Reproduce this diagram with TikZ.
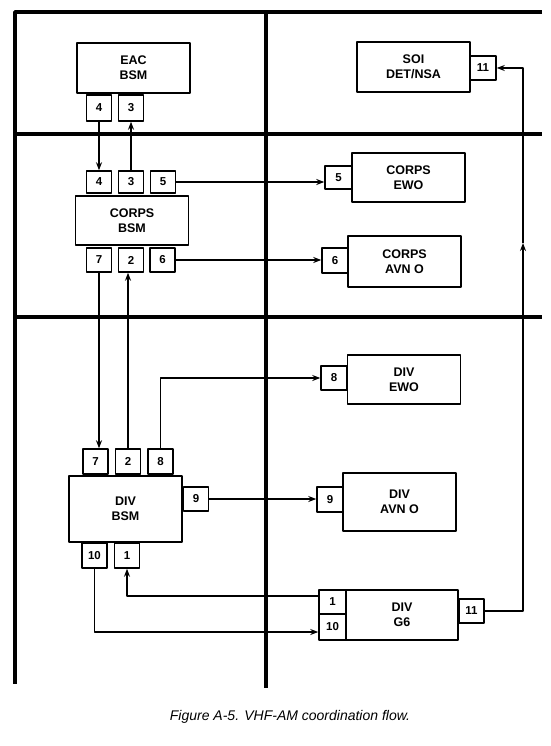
\documentclass[tikz,border=0pt]{standalone}
\usepackage{fontspec}
\setmainfont{Liberation Sans}
\usetikzlibrary{arrows.meta}
\begin{document}
\begin{tikzpicture}[x=1pt,y=-1pt,>={Stealth[length=8pt,width=6pt]}, line join=round,
	grid/.style={line width=3.4pt},
	unit/.style={draw, line width=1.5pt, minimum width=113pt, minimum height=50pt, inner sep=0pt, align=center, font=\fontsize{12.5}{15}\selectfont\bfseries},
	port/.style={draw, line width=1.5pt, minimum width=25pt, minimum height=24pt, inner sep=0pt, font=\fontsize{11.5}{12}\selectfont\bfseries},
	flow/.style={line width=1.5pt}]
	\useasboundingbox (0,0) rectangle (550,746);
	% Gitter
	\draw[grid] (542,12) -- (15,12) -- (15,684);
	\draw[grid] (266,12) -- (266,688);
	\draw[grid] (15,134) -- (542,134);
	\draw[grid] (15,317) -- (542,317);
	% EAC
	\node[unit] (eac) at (133.5,68) {EAC\\BSM};
	\node[port, minimum height=26pt] (eacfour) at (99,108) {4};
	\node[port, minimum height=26pt] (eacthree) at (131,108) {3};
	% Korps
	\node[unit, minimum height=49pt] (corps) at (132,220.5) {CORPS\\BSM};
	\node[port, minimum height=22pt] (corpsfour) at (99,182) {4};
	\node[port, minimum height=22pt] (corpsthree) at (131,182) {3};
	\node[port, minimum height=22pt] (corpsfive) at (163,182) {5};
	\node[port] (corpsseven) at (99,260) {7};
	\node[port] (corpstwo) at (131,260) {2};
	\node[port] (corpssix) at (162.5,260) {6};
	\node[unit] (soi) at (413.5,67) {SOI\\DET/NSA};
	\node[port, minimum width=26pt] (soieleven) at (483,68) {11};
	\node[unit, minimum height=49pt] (cewo) at (408.5,177.5) {CORPS\\EWO};
	\node[port, minimum width=27pt, minimum height=23pt] (cewofive) at (338.5,177.5) {5};
	\node[unit, minimum height=51pt] (cavn) at (404.5,261.5) {CORPS\\AVN O};
	\node[port, minimum width=26pt, minimum height=25pt] (cavnsix) at (335,260.5) {6};
	% Division
	\node[unit, minimum height=66pt] (div) at (125.5,509) {DIV\\BSM};
	\node[port, minimum height=25pt] (divseven) at (95.5,461.5) {7};
	\node[port, minimum height=25pt] (divtwo) at (128,461.5) {2};
	\node[port, minimum height=25pt] (diveight) at (160.5,461.5) {8};
	\node[port] (divnine) at (196,499) {9};
	\node[port, minimum height=25pt] (divten) at (94.5,555.5) {10};
	\node[port, minimum height=25pt] (divone) at (127,555.5) {1};
	\node[unit, minimum height=49pt] (dewo) at (404,379.5) {DIV\\EWO};
	\node[port, minimum width=26pt] (deweight) at (334,378) {8};
	\node[unit, minimum height=58pt] (davn) at (399.5,502) {DIV\\AVN O};
	\node[port, minimum width=26pt, minimum height=25pt] (davnine) at (330,499.5) {9};
	\node[unit, minimum width=112pt] (gsix) at (402,615) {DIV\\G6};
	\node[port, minimum width=27pt] (gsixone) at (332.5,602) {1};
	\node[port, minimum width=27pt, minimum height=26pt] (gsixten) at (332.5,627) {10};
	\node[port] (gsixeleven) at (471.5,611) {11};
	\coordinate (rise) at (523,611);
	\coordinate (mid) at (523,243);
	% Verbindungen
	\draw[flow,->] (eacfour) -- (eacfour |- corpsfour.north);
	\draw[flow,->] (corpsthree) -- (corpsthree |- eacthree.south);
	\draw[flow,->] (corpsfive) -- (corpsfive -| cewofive.west);
	\draw[flow,->] (corpssix) -- (corpssix -| cavnsix.west);
	\draw[flow,->] (corpsseven) -- (corpsseven |- divseven.north);
	\draw[flow,->] (divtwo) -- (divtwo |- corpstwo.south);
	\draw[flow,->] (diveight.north) |- (deweight.west);
	\draw[flow,->] (divnine) -- (divnine -| davnine.west);
	\draw[flow,->] ([yshift=6pt]gsixone.west) -| (divone.south);
	\draw[flow,->] (divten.south) |- ([yshift=-5pt]gsixten.west);
	\draw[flow,->] (gsixeleven.east) -- (rise) -- (mid);
	\draw[flow,->] (mid) |- (soieleven.east);
	\node[font=\fontsize{14}{16}\selectfont\itshape] (caption) at (290,717) {Figure A-5. VHF-AM coordination flow.};
\end{tikzpicture}
\end{document}
